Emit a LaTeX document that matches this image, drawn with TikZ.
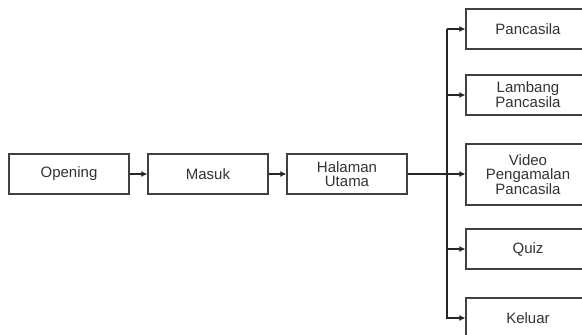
\documentclass[tikz,border=0pt]{standalone}
\usepackage{fontspec}
\setmainfont{Liberation Sans}
\usetikzlibrary{arrows.meta}
\begin{document}
\begin{tikzpicture}[x=1pt,y=-1pt,
  box/.style={draw=black!75,line width=1.3pt,fill=white,inner sep=0pt,
    font=\fontsize{15}{13.5}\selectfont,text=black!80,align=center},
  conn/.style={draw=black!85,line width=1.1pt,-{Latex[length=6pt,width=6pt]}}]
\useasboundingbox (0,0) rectangle (582,335);
\clip (0,0) rectangle (582,335);
\node[box,minimum width=120pt,minimum height=40pt] (open) at (69,174) {Opening};
\node[box,minimum width=120pt,minimum height=40pt] (mas) at (208,174) {Masuk};
\node[box,minimum width=120pt,minimum height=40pt] (hal) at (347,174) {Halaman\\Utama};
\node[box,minimum width=124pt,minimum height=40pt] (pan) at (528,29) {Pancasila};
\node[box,minimum width=124pt,minimum height=40pt] (lam) at (528,95) {Lambang\\Pancasila};
\node[box,minimum width=124pt,minimum height=61pt] (vid) at (528,174.5) {Video\\Pengamalan\\Pancasila};
\node[box,minimum width=124pt,minimum height=40pt] (qui) at (528,249) {Quiz};
\node[box,minimum width=124pt,minimum height=40pt] (kel) at (528,318) {Keluar};
\coordinate (j) at (447,174);
\draw[conn] (open) -- (mas);
\draw[conn] (mas) -- (hal);
\draw[conn] (hal.east) -- (vid.west |- hal.east);
\draw[conn] (j |- pan.west) -- (pan.west);
\draw[conn] (j |- lam.west) -- (lam.west);
\draw[conn] (j |- qui.west) -- (qui.west);
\draw[conn] (j |- pan.west) -- (j |- kel.west) -- (kel.west);
\end{tikzpicture}
\end{document}
